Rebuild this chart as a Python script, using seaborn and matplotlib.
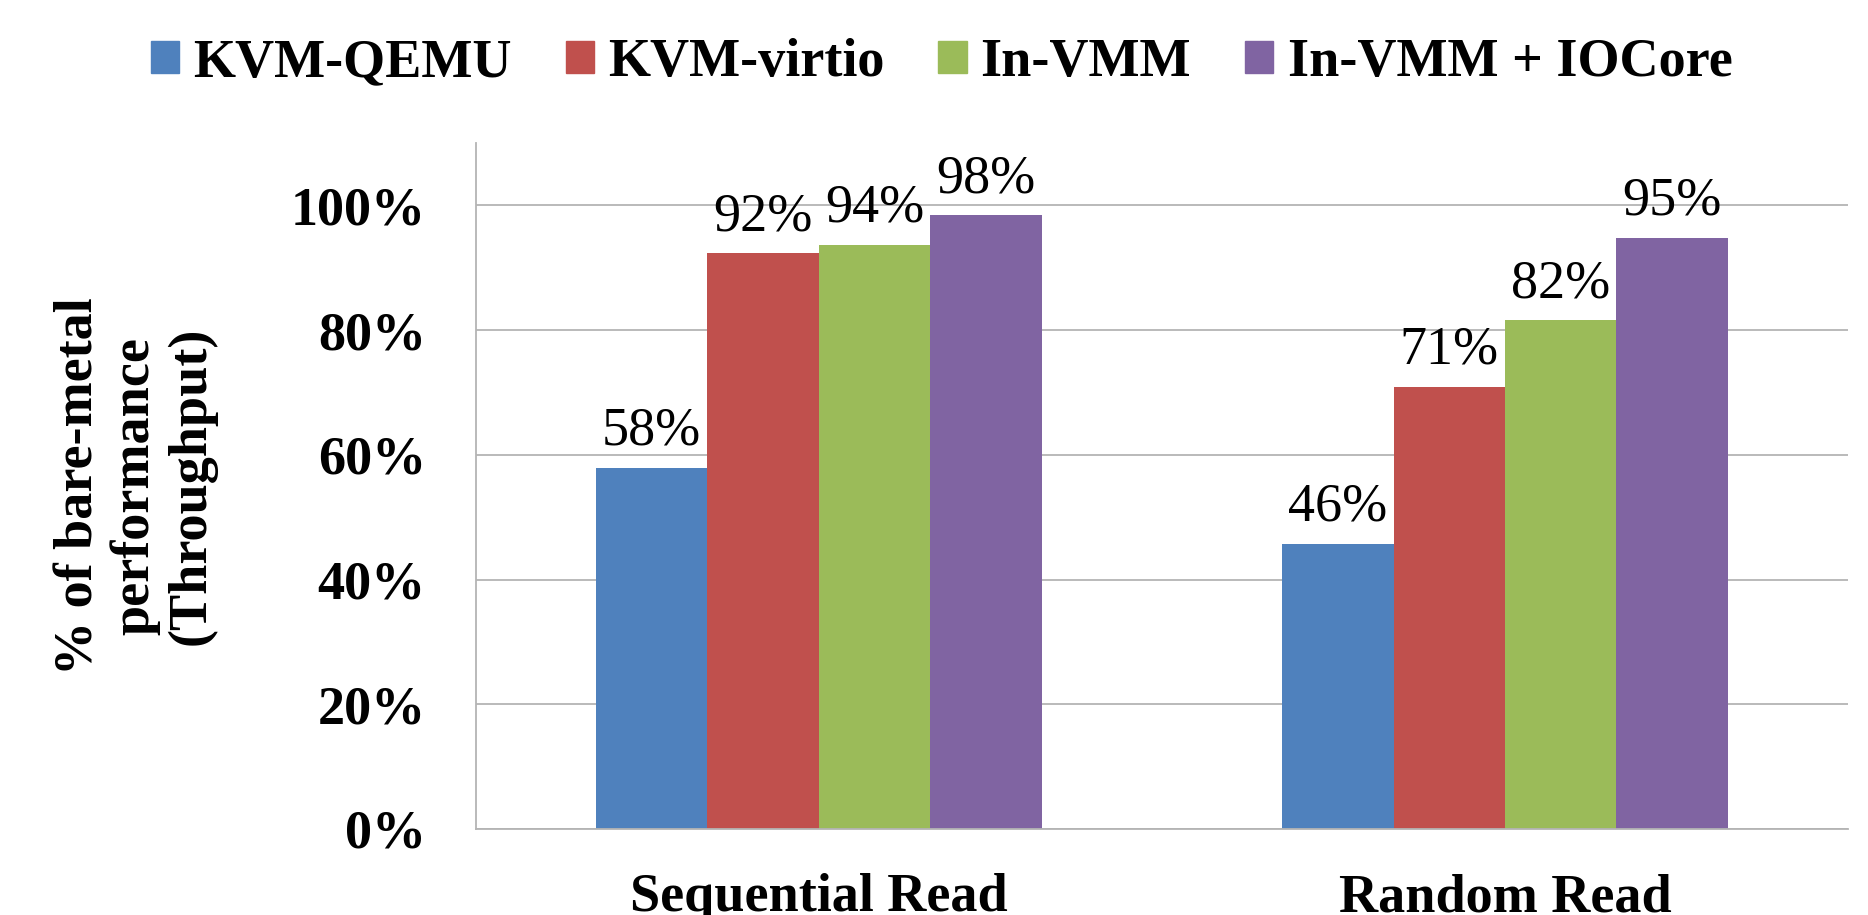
import numpy as np
import pandas as pd
import matplotlib.pyplot as plt
import matplotlib.patches as mpatches
from matplotlib.ticker import FixedLocator, PercentFormatter
import seaborn as sns

# data (share of bare-metal throughput)
tests = ['Sequential Read', 'Random Read']
configs = ['KVM-QEMU', 'KVM-virtio', 'In-VMM', 'In-VMM + IOCore']
seq_read = [0.579, 0.923, 0.937, 0.984]
rand_read = [0.457, 0.709, 0.816, 0.948]
colors = ['#4F81BD', '#C0504D', '#9BBB59', '#8064A2']

df = pd.DataFrame({
    'test': np.repeat(tests, len(configs)),
    'config': configs * len(tests),
    'value': seq_read + rand_read,
})

sns.set_style('white')
plt.rcParams['font.family'] = ['Liberation Serif', 'DejaVu Serif']
plt.rcParams['text.color'] = 'black'
plt.rcParams['xtick.labelcolor'] = 'black'
plt.rcParams['ytick.labelcolor'] = 'black'
plt.rcParams['axes.labelcolor'] = 'black'
grid_c = '#B4B4B4'

fig = plt.figure(figsize=(18.68, 9.15), dpi=100)
ax = fig.add_axes([0.2548, 0.094, 0.7345, 0.7497])

sns.barplot(data=df, x='test', y='value', hue='config', hue_order=configs,
            palette=colors, width=0.65, saturation=1, legend=False,
            linewidth=0, ax=ax)

for cont in ax.containers:
    ax.bar_label(cont, labels=[f'{b.get_height():.0%}' for b in cont],
                 padding=8, fontsize=39, color='black')

ax.set_ylim(0, 1.1)
ax.set_xlim(-0.5, 1.5)
ax.yaxis.set_major_locator(FixedLocator([0, 0.2, 0.4, 0.6, 0.8, 1.0]))
ax.yaxis.set_major_formatter(PercentFormatter(1.0, decimals=0))
ax.grid(axis='y', color=grid_c, linewidth=1.3)
ax.set_axisbelow(True)
for s in ['top', 'right']:
    ax.spines[s].set_visible(False)
for s in ['left', 'bottom']:
    ax.spines[s].set_color(grid_c)
    ax.spines[s].set_linewidth(1.3)

ax.tick_params(axis='y', length=12, width=1.3, color=grid_c, pad=24,
               labelsize=39)
for t in ax.get_yticklabels():
    t.set_fontweight('bold')
ax.xaxis.set_minor_locator(FixedLocator([-0.5, 0.5, 1.5]))
ax.tick_params(axis='x', which='major', length=0, pad=32, labelsize=39)
ax.tick_params(axis='x', which='minor', length=10, width=1.3, color=grid_c)
for t in ax.get_xticklabels():
    t.set_fontweight('bold')

ax.set_xlabel('')
ax.set_ylabel('% of bare-metal\nperformance\n(Throughput)', fontsize=39,
              fontweight='bold', linespacing=1.15)
ax.yaxis.set_label_coords(-0.189, 0.5)

handles = [mpatches.Patch(color=c, label=l) for c, l in zip(colors, configs)]
fig.legend(handles=handles, loc='center', bbox_to_anchor=(0.504, 0.931),
           ncol=4, frameon=False, handlelength=0.52, handleheight=0.52,
           handletextpad=0.26, columnspacing=1.0,
           prop={'size': 39, 'weight': 'bold'})

fig.savefig('out.png', dpi=100)
